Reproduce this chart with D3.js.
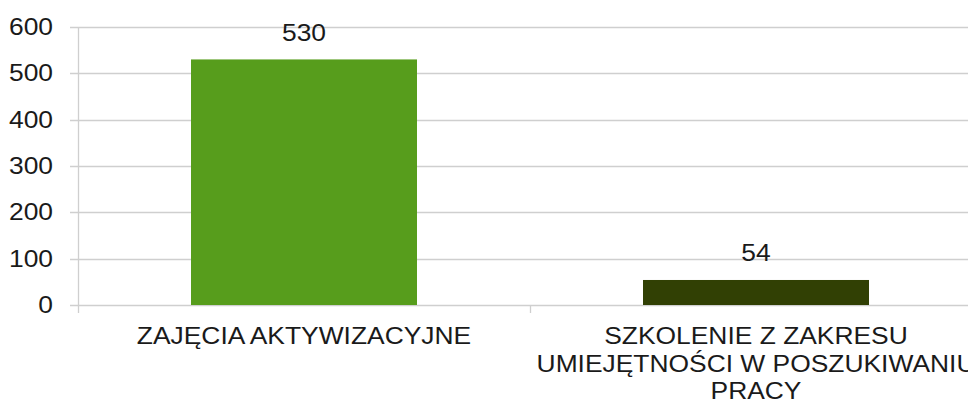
<!DOCTYPE html>
<html>
<head>
<meta charset="utf-8">
<script src="https://cdn.jsdelivr.net/npm/d3@7"></script>
<style>
  html, body { margin: 0; padding: 0; background: #fff; }
  svg { display: block; font-family: "Liberation Sans", Arial, sans-serif; }
</style>
</head>
<body>
<svg id="chart" width="968" height="407"></svg>
<script>
/* ── Data ─────────────────────────────────────────────────────────────────── */

const categories = [
  "ZAJĘCIA AKTYWIZACYJNE",
  "SZKOLENIE Z ZAKRESU\nUMIEJĘTNOŚCI W POSZUKIWANIU\nPRACY",
];
const values = [530, 54];
const barColors = ["#579d1c", "#314004"];
const yTicks = [0, 100, 200, 300, 400, 500, 600];

/* ── Layout ───────────────────────────────────────────────────────────────── */

const m = { top: 27, left: 78, bottom: 102 };
const plotRight = 982; // plot runs past the right edge of the picture
const H = 407 - m.top - m.bottom;
const FS = 24;        // font size
const SX = 1.1;       // text in the source is stretched sideways

const svg = d3.select("#chart");

const x = d3.scaleBand().domain(categories).range([m.left, plotRight]).padding(0);
const y = d3.scaleLinear().domain([0, 600]).range([m.top + H, m.top]);

// text helper: place at (px, py) with the horizontal stretch
const place = (px, py) => `translate(${px},${py}) scale(${SX},1)`;

// Gridlines (with the little tick stub left of the axis)
svg.append("g")
  .selectAll("line")
  .data(yTicks)
  .join("line")
  .attr("x1", m.left - 8)
  .attr("x2", plotRight)
  .attr("y1", (d) => Math.round(y(d)) + 0.5)
  .attr("y2", (d) => Math.round(y(d)) + 0.5)
  .attr("stroke", "#cfcfcf")
  .attr("stroke-width", 1.3);

// Y axis line
svg.append("line")
  .attr("x1", m.left + 0.5)
  .attr("x2", m.left + 0.5)
  .attr("y1", m.top)
  .attr("y2", y(0) + 8)
  .attr("stroke", "#cfcfcf")
  .attr("stroke-width", 1.3);

// Category separator ticks
svg.append("g")
  .selectAll("line")
  .data(categories.slice(1))
  .join("line")
  .attr("x1", (d) => Math.round(x(d)) + 0.5)
  .attr("x2", (d) => Math.round(x(d)) + 0.5)
  .attr("y1", y(0))
  .attr("y2", y(0) + 8)
  .attr("stroke", "#cfcfcf")
  .attr("stroke-width", 1.3);

// Y labels
svg.append("g")
  .selectAll("text")
  .data(yTicks)
  .join("text")
  .attr("transform", (d) => place(53, y(d) + 8))
  .attr("text-anchor", "end")
  .attr("font-size", FS)
  .attr("fill", "#1a1a1a")
  .text((d) => d);

// Bars
const barW = x.bandwidth() * 0.5;
svg.append("g")
  .selectAll("rect")
  .data(values)
  .join("rect")
  .attr("x", (d, i) => x(categories[i]) + (x.bandwidth() - barW) / 2)
  .attr("width", barW)
  .attr("y", (d) => y(d))
  .attr("height", (d) => y(0) - y(d))
  .attr("fill", (d, i) => barColors[i]);

// Value labels
svg.append("g")
  .selectAll("text")
  .data(values)
  .join("text")
  .attr("transform", (d, i) => place(x(categories[i]) + x.bandwidth() / 2, y(d) - 18.5))
  .attr("text-anchor", "middle")
  .attr("font-size", FS)
  .attr("fill", "#1a1a1a")
  .text((d) => d);

// Category labels
svg.append("g")
  .selectAll("g")
  .data(categories)
  .join("g")
  .each(function (d) {
    const cx = x(d) + x.bandwidth() / 2;
    d3.select(this)
      .selectAll("text")
      .data(d.split("\n"))
      .join("text")
      .attr("transform", (_, i) => place(cx, 344 + i * 27.5))
      .attr("text-anchor", "middle")
      .attr("font-size", FS)
      .attr("fill", "#1a1a1a")
      .text((t) => t);
  });
</script>
</body>
</html>
